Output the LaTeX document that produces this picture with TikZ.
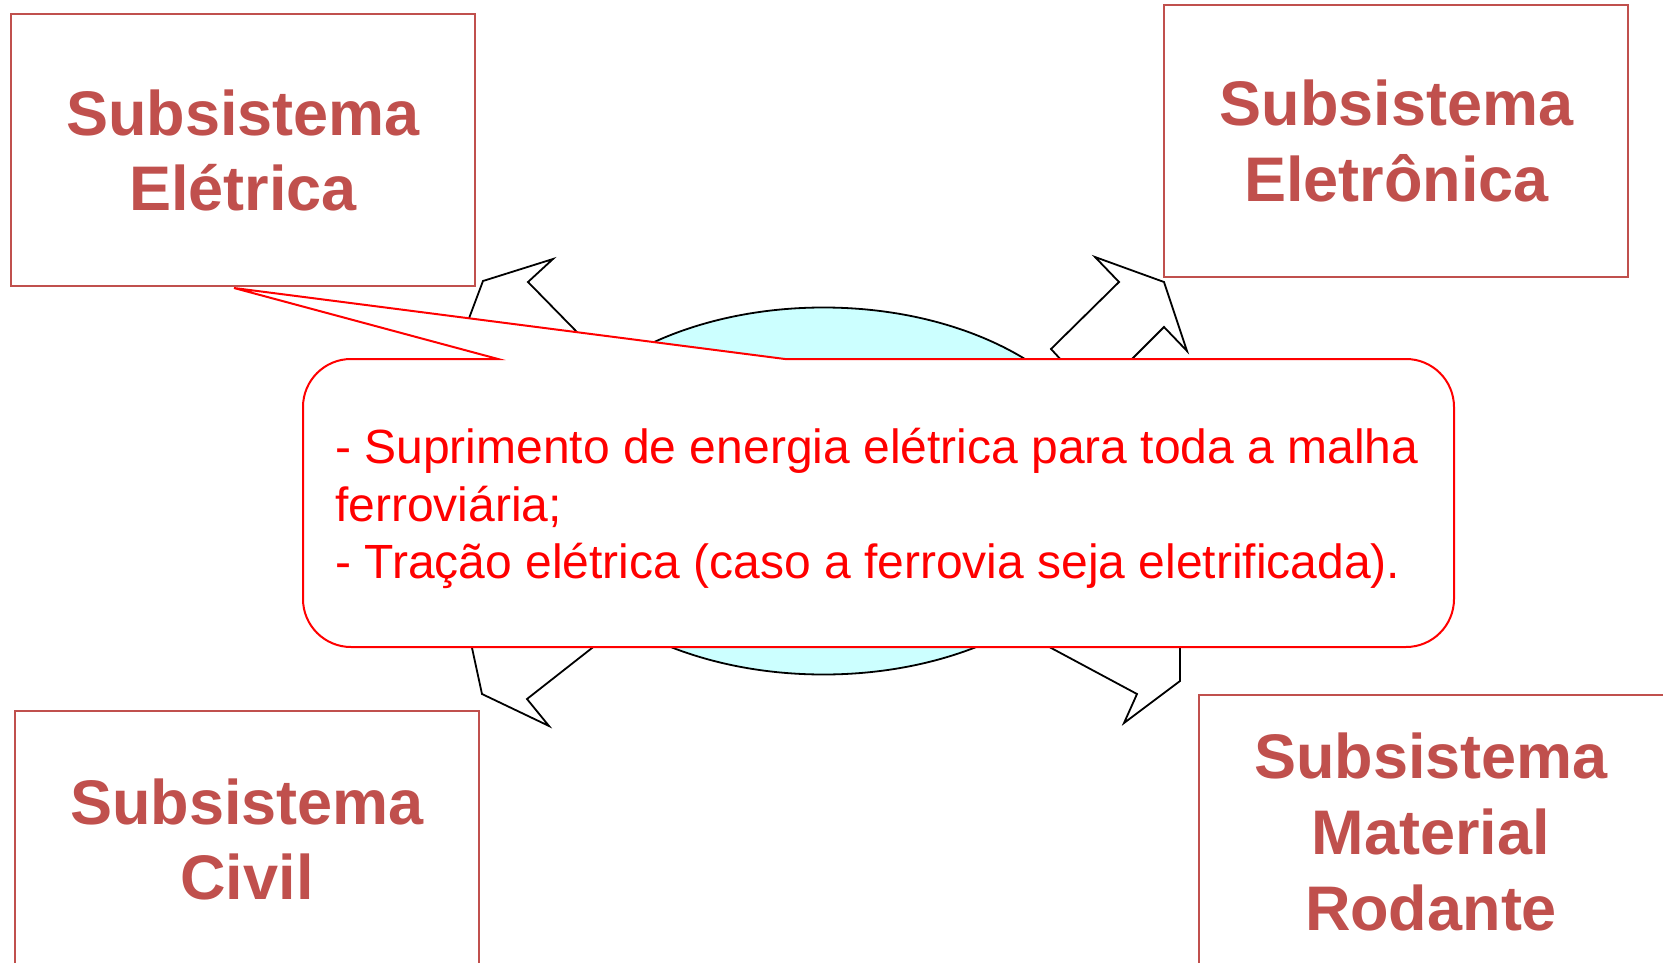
\documentclass[tikz,border=0pt]{standalone}
\usepackage{fontspec}
\setmainfont{Liberation Sans}
\usetikzlibrary{shapes.geometric}
\definecolor{subred}{RGB}{192,80,77}
\definecolor{hubcyan}{RGB}{204,255,255}
\begin{document}
\begin{tikzpicture}[x=1pt,y=-1pt,
  subsys/.style={rectangle,draw=subred,line width=2,text=subred,align=center,
    font=\bfseries\fontsize{63}{75.6}\selectfont,minimum width=464},
  blockarrow/.style={draw=black,fill=white,line width=1.8},
  notetext/.style={anchor=base west,inner sep=0,text=red,
    font=\fontsize{48}{57.6}\selectfont}]
\clip (0,0) rectangle (1663,963);
\fill[white] (0,0) rectangle (1663,963);
% the four subsystems, corners as in the slide
\node[subsys,minimum height=272] (eletrica) at (243.2,150.3) {Subsistema\\Elétrica};
\node[subsys,minimum height=272] (eletronica) at (1396.3,141) {Subsistema\\Eletrônica};
\node[subsys,minimum height=258] (civil) at (247,839.5) {Subsistema\\Civil};
\node[subsys,minimum height=274,minimum width=465] (rodante) at (1431,832) {Subsistema\\Material\\Rodante};
% block arrows, inner ends go under the hub and the note
\draw[blockarrow] (560,380) -- (500,345) -- (462,337) -- (483,281) -- (553,259) -- (528,282) -- (620,376) -- cycle;
\draw[blockarrow] (1075,375) -- (1051,349) -- (1119,282) -- (1095,257) -- (1164,282) -- (1187,351) -- (1164,327) -- (1117,374) -- cycle;
\draw[blockarrow] (620,626) -- (500,626) -- (469,634) -- (482,694) -- (549,726) -- (527,699) -- (592,648) -- cycle;
\draw[blockarrow] (1040,642) -- (1137,694) -- (1124,723) -- (1180,681) -- (1180,630) -- (1040,630) -- cycle;
\node[ellipse,draw=black,line width=1.8,fill=hubcyan,minimum width=580,minimum height=367,inner sep=0] (hub) at (823.5,491) {};
% note with its pointer to the Eletrica box
\draw[red,fill=white,line width=2] (498,359) -- (234,288) -- (785,359) -- (1406,359)
  arc[start angle=90,end angle=0,radius=48pt] -- (1454,599)
  arc[start angle=0,end angle=-90,radius=48pt] -- (351,647)
  arc[start angle=-90,end angle=-180,radius=48pt] -- (303,407)
  arc[start angle=180,end angle=90,radius=48pt] -- cycle;
\node[notetext] (nota1) at (335,463.5) {- Suprimento de energia elétrica para toda a malha};
\node[notetext] (nota2) at (335,521.1) {ferroviária;};
\node[notetext] (nota3) at (335,578.7) {- Tração elétrica (caso a ferrovia seja eletrificada).};
\end{tikzpicture}
\end{document}
